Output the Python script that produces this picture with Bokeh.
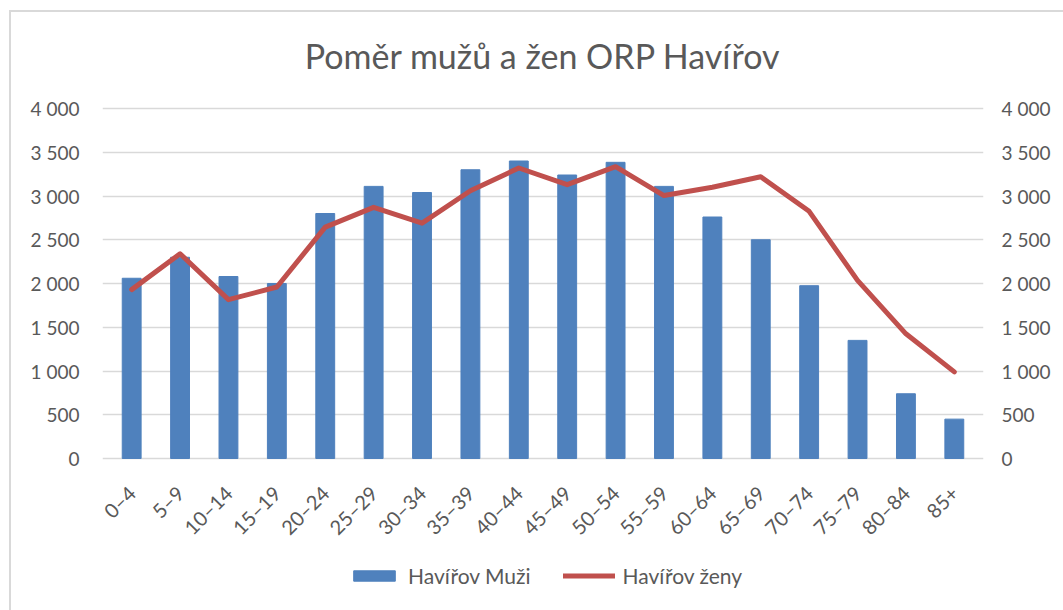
from bokeh.plotting import figure
from bokeh.models import (FactorRange, Range1d, LinearAxis, CategoricalAxis, FixedTicker,
                          CustomJSTickFormatter, Legend, LegendItem, ColumnDataSource, Label)
from bokeh.embed import file_html
from bokeh.resources import INLINE
import math

title_text = "Poměr mužů a žen ORP Havířov"
categories = ["0–4", "5–9", "10–14", "15–19", "20–24", "25–29", "30–34", "35–39",
              "40–44", "45–49", "50–54", "55–59", "60–64", "65–69", "70–74", "75–79",
              "80–84", "85+"]
muzi = [2060, 2300, 2080, 2000, 2800, 3110, 3040, 3300, 3400, 3240, 3385, 3110,
        2760, 2500, 1975, 1350, 740, 450]
zeny = [1930, 2340, 1815, 1960, 2645, 2870, 2690, 3060, 3320, 3130, 3335, 3005,
        3100, 3220, 2825, 2035, 1425, 990]
y_ticks = [0, 500, 1000, 1500, 2000, 2500, 3000, 3500, 4000]

FONT = "Lato"
GRAY = "#595959"

# layout (pixels): 98 px above the 0..4000 plot area, 350 px for it, 152 px below it
TOP = 98
PLOT_H = 350
BELOW = 152
Y_MAX = 4000
UPP = Y_MAX / PLOT_H           # data units per pixel
y_min = -BELOW * UPP
y_top = Y_MAX + TOP * UPP
TITLE_Y_PX = 45                # title centre, px from top of the figure

src = ColumnDataSource(dict(cat=categories, muzi=muzi, zeny=zeny))

x_range = FactorRange(*categories, range_padding=0.103, range_padding_units="absolute")

p = figure(width=1054, height=600, x_range=x_range, title=None,
           y_range=Range1d(y_min, y_top), output_backend="svg", toolbar_location=None,
           min_border_left=93, min_border_right=80, min_border_top=0,
           min_border_bottom=0, x_axis_location=None)
p.extra_y_ranges = {"y2": Range1d(y_min, y_top)}
p.outline_line_color = None
p.background_fill_color = None
p.border_fill_color = None
p.styles = {"box-shadow": "inset 2px 2px 0 0 #d9d9d9", "background-color": "white",
            "margin-left": "9px", "margin-top": "10px"}

bars = p.vbar(x="cat", top="muzi", width=0.39, source=src, color="#4F81BD")
line = p.line(x="cat", y="zeny", source=src, line_color="#C0504D", line_width=5,
              line_join="round", line_cap="round", y_range_name="y2")

title = Label(x=len(categories) / 2, y=y_top - TITLE_Y_PX * UPP, text=title_text,
              text_align="center", text_baseline="middle", text_font=FONT,
              text_font_size="34px", text_color=GRAY)
p.add_layout(title)

fmt = CustomJSTickFormatter(code="""
    if (tick >= 1000) {
        const th = Math.floor(tick / 1000);
        const r = String(tick % 1000).padStart(3, '0');
        return th + ' ' + r;
    }
    return String(tick);
""")

yl = p.yaxis[0]
yl.ticker = FixedTicker(ticks=y_ticks)
yl.formatter = fmt
yr = LinearAxis(y_range_name="y2", ticker=FixedTicker(ticks=y_ticks), formatter=fmt)
p.add_layout(yr, "right")

for ax in [yl, yr]:
    ax.axis_line_color = None
    ax.major_tick_line_color = None
    ax.minor_tick_line_color = None
    ax.major_label_text_font = FONT
    ax.major_label_text_font_size = "19px"
    ax.major_label_text_color = GRAY
yl.major_label_standoff = 17
yr.major_label_standoff = 12

xa = CategoricalAxis(fixed_location=0)
p.add_layout(xa, "below")
xa.axis_line_color = None
xa.major_tick_line_color = None
xa.minor_tick_line_color = None
xa.major_label_orientation = math.pi / 4
xa.major_label_text_font = FONT
xa.major_label_text_font_size = "20px"
xa.major_label_text_color = GRAY
xa.major_label_standoff = 25

p.xgrid.grid_line_color = None
p.ygrid.ticker = FixedTicker(ticks=y_ticks)
p.ygrid.grid_line_color = "#d9d9d9"
p.ygrid.grid_line_width = 1.5

legend = Legend(items=[LegendItem(label="Havířov Muži", renderers=[bars]),
                       LegendItem(label="Havířov ženy", renderers=[line])],
                orientation="horizontal", location=(246, 22),
                glyph_width=52, glyph_height=13, label_standoff=8, spacing=32,
                padding=0, margin=0, border_line_color=None,
                background_fill_alpha=0, label_text_font=FONT,
                label_text_font_size="21px", label_text_color=GRAY)
p.add_layout(legend, "center")

open("out.html", "w").write(file_html(p, INLINE))
